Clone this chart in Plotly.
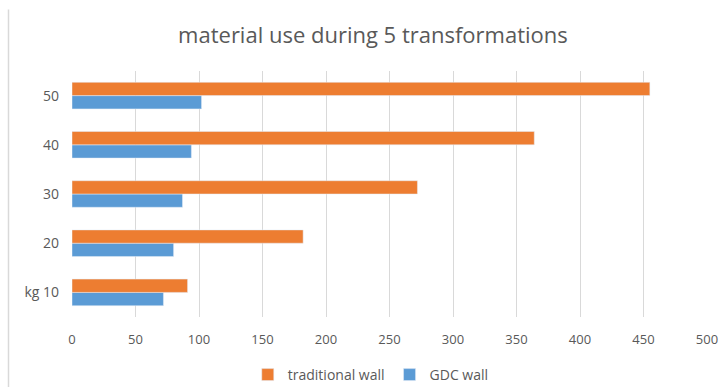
from plotly.graph_objects import Figure as plotly_Figure, Bar as plotly_Bar

# categories (bottom to top)
category_list = ["kg 10", "20", "30", "40", "50"]
traditional_wall_values = [91, 182, 272, 364, 455]
gdc_wall_values = [72, 80, 87, 94, 102]
x_tick_values = [0, 50, 100, 150, 200, 250, 300, 350, 400, 450, 500]

grey_text = "#595959"
font_family = "Open Sans, Liberation Sans, sans-serif"

fig = plotly_Figure()
# blue first so it sits below the orange bar in each group
fig.add_trace(
    plotly_Bar(
        y=category_list,
        x=gdc_wall_values,
        orientation="h",
        name="GDC wall",
        marker=dict(color="#5B9BD5"),
        legendrank=2,
    )
)
fig.add_trace(
    plotly_Bar(
        y=category_list,
        x=traditional_wall_values,
        orientation="h",
        name="traditional wall",
        marker=dict(color="#ED7D31"),
        legendrank=1,
    )
)

fig.update_xaxes(
    range=[0, 500],
    tickvals=x_tick_values,
    showgrid=True,
    gridcolor="#D9D9D9",
    gridwidth=1,
    zeroline=False,
    showline=False,
    tickfont=dict(size=13, color=grey_text, family=font_family),
    ticklabelstandoff=13,
    automargin=False,
    fixedrange=True,
)
fig.update_yaxes(
    showgrid=False,
    zeroline=False,
    showline=False,
    tickfont=dict(size=14, color=grey_text, family=font_family),
    ticklabelstandoff=12,
    automargin=False,
)

# light chart-area border on the left
fig.add_shape(
    type="line",
    xref="paper",
    yref="paper",
    x0=-0.1,
    x1=-0.1,
    y0=1.25,
    y1=-0.3,
    line=dict(color="#D9D9D9", width=1.5),
)

fig.update_layout(
    width=727,
    height=387,
    barmode="group",
    bargap=0.46,
    bargroupgap=0,
    plot_bgcolor="white",
    paper_bgcolor="white",
    margin=dict(l=72, r=20, t=71, b=70, autoexpand=False),
    title=dict(
        text="material use during 5 transformations",
        x=0.513,
        xanchor="center",
        xref="container",
        y=0.91,
        yanchor="middle",
        yref="container",
        font=dict(size=22, color=grey_text, family=font_family),
    ),
    legend=dict(
        orientation="h",
        x=0.51,
        xanchor="center",
        xref="container",
        y=0.031,
        yanchor="middle",
        yref="container",
        font=dict(size=14, color=grey_text, family=font_family),
        itemwidth=30,
    ),
)

# drop the default page margin so the figure sits at the window's corner
fig.write_html(
    "out.html",
    config={"displayModeBar": False},
    post_script="document.body.style.margin='0';",
)
